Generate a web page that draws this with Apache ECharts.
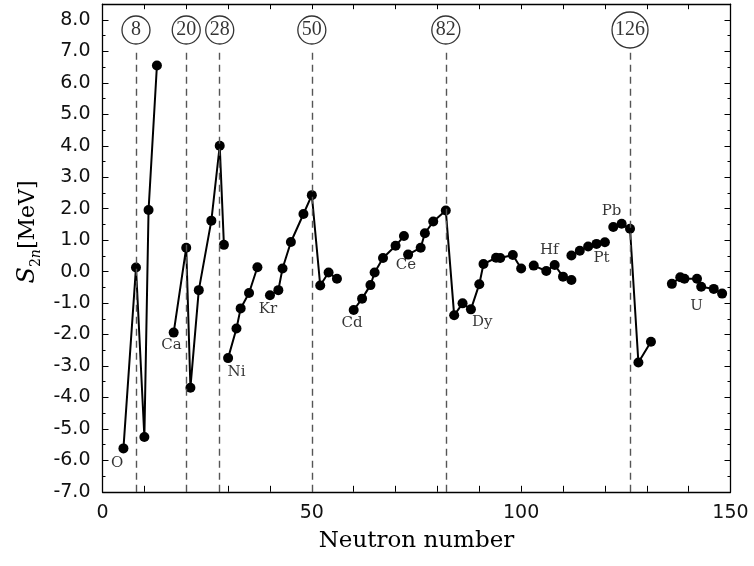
<!DOCTYPE html>
<html><head><meta charset="utf-8">
<script src="https://cdn.jsdelivr.net/npm/echarts@6/dist/echarts.min.js"></script>
<style>html,body{margin:0;padding:0;background:#fff}#c{width:754px;height:566px}</style>
</head><body><div id="c"></div>
<script>
// ---- data (neutron number N, two-neutron separation value in MeV) ----
const O_N  = [5, 8, 10, 11, 13];
const O_V  = [-5.62, 0.13, -5.26, 1.96, 6.55];
const Ca_N = [17, 20, 21, 23, 26, 28, 29];
const Ca_V = [-1.94, 0.76, -3.69, -0.59, 1.62, 4.00, 0.85];
const Ni_N = [30, 32, 33, 35, 37];
const Ni_V = [-2.75, -1.81, -1.17, -0.68, 0.14];
const Kr_N = [40, 42, 43, 45, 48, 50, 52, 54, 56];
const Kr_V = [-0.75, -0.59, 0.10, 0.94, 1.83, 2.43, -0.44, -0.03, -0.23];
const Cd_N = [60, 62, 64, 65, 67, 70, 72];
const Cd_V = [-1.22, -0.86, -0.43, -0.03, 0.43, 0.82, 1.13];
const CeDy_N = [73, 76, 77, 79, 82, 84, 86, 88, 90, 91, 94, 95, 98, 100];
const CeDy_V = [0.54, 0.76, 1.22, 1.59, 1.94, -1.39, -1.01, -1.20, -0.40, 0.24, 0.44, 0.43, 0.53, 0.10];
const Hf_N = [103, 106, 108, 110, 112];
const Hf_V = [0.19, 0.02, 0.21, -0.16, -0.27];
const Pt_N = [112, 114, 116, 118, 120];
const Pt_V = [0.51, 0.66, 0.80, 0.88, 0.93];
const Pb_N = [122, 124, 126, 128, 131];
const Pb_V = [1.42, 1.52, 1.36, -2.89, -2.23];
const U_N  = [136, 138, 139, 142, 143, 146, 148];
const U_V  = [-0.39, -0.18, -0.23, -0.23, -0.48, -0.55, -0.70];

const magicNumbers = [8, 20, 28, 50, 82, 126];

const elementNames  = ['O', 'Ca', 'Ni', 'Kr', 'Cd', 'Ce', 'Dy', 'Hf', 'Pt', 'Pb', 'U'];
const elementAnchorN = [3.5, 16.5, 32, 39.5, 59.6, 72.5, 90.7, 106.7, 119.2, 121.6, 141.9];
const elementAnchorV = [-6.1, -2.35, -3.2, -1.2, -1.65, 0.2, -1.62, 0.67, 0.43, 1.91, -1.09];

const xTickValues  = [0, 8, 10, 20, 28, 30, 40, 50, 60, 70, 80, 82, 90, 100, 110, 120, 126, 130, 140, 150];
const xTopTicks    = [0, 10, 20, 30, 40, 50, 60, 70, 80, 90, 100, 110, 120, 130, 140, 150];
const xLabelValues = [0, 50, 100, 150];

// ---- chart ----
const zip = (a, b) => a.map((x, i) => [x, b[i]]);
const groups = [[O_N, O_V], [Ca_N, Ca_V], [Ni_N, Ni_V], [Kr_N, Kr_V], [Cd_N, Cd_V],
                [CeDy_N, CeDy_V], [Hf_N, Hf_V], [Pt_N, Pt_V], [Pb_N, Pb_V], [U_N, U_V]];

const SERIF = 'DejaVu Serif';
const SERIF2 = 'Liberation Serif';
const SANS = 'DejaVu Sans';

const series = [];
// dashed magic-number guide lines
series.push({
  type: 'line', data: [], silent: true, z: 1,
  markLine: {
    silent: true, symbol: ['none', 'none'], label: { show: false },
    lineStyle: { type: [7, 5], color: '#555', width: 1.4 },
    data: magicNumbers.map(m => [{ coord: [m, -7] }, { coord: [m, 7.0] }])
  }
});
groups.forEach(([n, v]) => {
  series.push({
    type: 'line', data: zip(n, v), symbol: 'circle', symbolSize: 10,
    itemStyle: { color: '#000' }, lineStyle: { color: '#000', width: 2 },
    z: 3, animation: false
  });
});
// magic-number circles
series.push({
  type: 'scatter', z: 5,
  data: magicNumbers.map(m => ({ value: [m, 7.68], symbolSize: m >= 100 ? 36 : 28 })),
  itemStyle: { color: '#fff', borderColor: '#000', borderWidth: 1.3 },
  label: { show: true, position: 'inside', formatter: p => String(p.value[0]),
           fontFamily: SERIF2, fontSize: 20, color: '#000' }
});
// element labels
series.push({
  type: 'scatter', z: 4, symbolSize: 0,
  data: elementNames.map((e, i) => ({ name: e, value: [elementAnchorN[i], elementAnchorV[i]] })),
  itemStyle: { color: 'transparent' },
  label: { show: true, position: 'inside', formatter: p => p.name,
           fontFamily: SERIF, fontSize: 15, color: '#000' }
});

const option = {
  animation: false,
  backgroundColor: '#fff',
  grid: { left: 102.5, right: 23.5, top: 4.2, bottom: 74.2, containLabel: false },
  xAxis: [{
    type: 'value', min: 0, max: 150, position: 'bottom',
    name: 'Neutron number', nameLocation: 'middle', nameGap: 38,
    nameTextStyle: { fontFamily: SERIF, fontSize: 23, color: '#000' },
    axisLine: { show: true, onZero: false, lineStyle: { color: '#000', width: 1.3 } },
    axisTick: { show: true, inside: true, length: 6, customValues: xTickValues, lineStyle: { color: '#000' } },
    axisLabel: { customValues: xLabelValues, fontFamily: SANS, fontSize: 19, color: '#111', margin: 12 },
    splitLine: { show: false }
  }, {
    type: 'value', min: 0, max: 150, position: 'top',
    axisLine: { show: true, onZero: false, lineStyle: { color: '#000', width: 1.3 } },
    axisTick: { show: true, inside: true, length: 5, customValues: xTopTicks, lineStyle: { color: '#000' } },
    axisLabel: { show: false }, splitLine: { show: false }
  }],
  yAxis: [{
    type: 'value', min: -7, max: 8.5, interval: 1, position: 'left',
    axisLine: { show: true, onZero: false, lineStyle: { color: '#000', width: 1.3 } },
    axisTick: { show: true, inside: true, length: 6, lineStyle: { color: '#000' } },
    minorTick: { show: true, splitNumber: 2, length: 3, lineStyle: { color: '#000' } },
    axisLabel: { showMaxLabel: false, formatter: v => v.toFixed(1), fontFamily: SANS, fontSize: 19, color: '#111', margin: 12 },
    splitLine: { show: false }
  }, {
    type: 'value', min: -7, max: 8.5, interval: 1, position: 'right',
    axisLine: { show: true, onZero: false, lineStyle: { color: '#000', width: 1.3 } },
    axisTick: { show: true, inside: true, length: 6, lineStyle: { color: '#000' } },
    minorTick: { show: true, splitNumber: 2, length: 3, lineStyle: { color: '#000' } },
    axisLabel: { show: false }, splitLine: { show: false }
  }],
  graphic: [{
    type: 'text', x: 28, y: 232, rotation: Math.PI / 2,
    style: {
      text: '{s|S}{sub|2}{subi|n}{m|[MeV]}',
      align: 'center', verticalAlign: 'middle', fill: '#000',
      rich: {
        s: { fontFamily: SERIF, fontSize: 24, fontStyle: 'italic', lineHeight: 30, verticalAlign: 'middle' },
        sub: { fontFamily: SERIF, fontSize: 14, lineHeight: 30, verticalAlign: 'bottom' },
        subi: { fontFamily: SERIF, fontSize: 14, fontStyle: 'italic', lineHeight: 30, verticalAlign: 'bottom' },
        m: { fontFamily: SERIF, fontSize: 22, lineHeight: 30, verticalAlign: 'middle' }
      }
    }
  }],
  series: series
};

const chart = echarts.init(document.getElementById('c'), null, { renderer: 'canvas' });
chart.setOption(option);
</script>
</body></html>
